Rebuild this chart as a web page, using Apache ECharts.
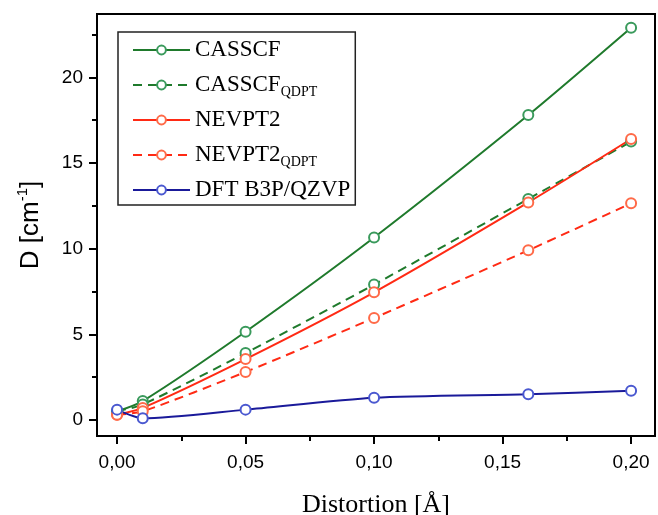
<!DOCTYPE html>
<html>
<head>
<meta charset="utf-8">
<script src="https://cdn.jsdelivr.net/npm/echarts@6/dist/echarts.min.js"></script>
<style>
  html, body { margin: 0; padding: 0; background: #fff; }
  #chart { width: 658px; height: 515px; }
</style>
</head>
<body>
<div id="chart"></div>
<script>
// distortion values (Å)
var distortion = [0, 0.01, 0.05, 0.10, 0.16, 0.20];

// D values (cm^-1)
var casscf      = [0.5, 1.1, 5.15, 10.65, 17.8, 22.9];
var casscfQdpt  = [0.5, 0.9, 3.9, 7.9, 12.9, 16.25];
var nevpt2      = [0.3, 0.7, 3.55, 7.45, 12.7, 16.4];
var nevpt2Qdpt  = [0.3, 0.5, 2.8, 5.95, 9.9, 12.65];
var dft         = [0.6, 0.1, 0.6, 1.3, 1.5, 1.7];

var xMajorTicks = [0, 0.05, 0.10, 0.15, 0.20];
var xMinorTicks = [0.025, 0.075, 0.125, 0.175];
var yMajorTicks = [0, 5, 10, 15, 20];
var yMinorTicks = [2.5, 7.5, 12.5, 17.5, 22.5];

function pairs(ys) {
    return distortion.map(function (x, i) { return [x, ys[i]]; });
}

var dom = document.getElementById("chart");
var myChart = echarts.init(dom);

var xMin = -0.0078, xMax = 0.2093;
var yMin = -0.94, yMax = 23.7;

function mkSeries(name, ys, lineColor, markColor, dashed) {
    return {
        name: name,
        type: 'line',
        data: pairs(ys),
        smooth: 0.25,
        symbol: 'emptyCircle',
        symbolSize: 10,
        showAllSymbol: true,
        lineStyle: {
            color: lineColor,
            width: 2,
            type: dashed ? [9, 6] : 'solid'
        },
        itemStyle: {
            color: markColor,
            borderColor: markColor,
            borderWidth: 1.3
        },
        emphasis: { disabled: true }
    };
}

var option = {
    animation: false,
    grid: {
        left: 97,
        right: 3,
        top: 14,
        bottom: 79,
        outerBoundsMode: 'none',
        show: true,
        borderColor: '#000',
        borderWidth: 2
    },
    legend: {
        orient: 'vertical',
        left: 118,
        top: 32,
        itemWidth: 57,
        itemHeight: 11,
        itemGap: 7,
        padding: [4, 5, 1, 14],
        borderColor: '#222',
        borderWidth: 1.5,
        backgroundColor: '#fff',
        data: ['CASSCF', 'CASSCF_QDPT', 'NEVPT2', 'NEVPT2_QDPT', 'DFT B3P/QZVP'],
        formatter: function (name) {
            if (name.indexOf('_QDPT') > 0) {
                return '{m|' + name.replace('_QDPT', '') + '}{s|QDPT}';
            }
            return '{m|' + name + '}';
        },
        textStyle: {
            color: '#000',
            fontFamily: 'Liberation Serif',
            fontSize: 23,
            lineHeight: 28,
            rich: {
                m: { fontFamily: 'Liberation Serif', fontSize: 23, color: '#000', verticalAlign: 'middle', lineHeight: 28 },
                s: { fontFamily: 'Liberation Serif', fontSize: 14, color: '#000', verticalAlign: 'bottom', lineHeight: 28 }
            }
        }
    },
    xAxis: [{
        type: 'value',
        min: xMin,
        max: xMax,
        name: 'Distortion [Å]',
        nameLocation: 'middle',
        nameGap: 56,
        nameTextStyle: { fontFamily: 'Liberation Serif', fontSize: 26, color: '#000' },
        splitLine: { show: false },
        axisLine: { show: true, onZero: false, lineStyle: { color: '#000', width: 2 } },
        axisTick: { show: true, length: 8, lineStyle: { color: '#000', width: 2 }, customValues: xMajorTicks },
        axisLabel: {
            customValues: xMajorTicks,
            margin: 17,
            color: '#000',
            fontFamily: 'Liberation Sans',
            fontSize: 19,
            formatter: function (v) { return v.toFixed(2).replace('.', ','); }
        }
    }, {
        type: 'value',
        min: xMin,
        max: xMax,
        position: 'bottom',
        splitLine: { show: false },
        axisLine: { show: false, onZero: false },
        axisTick: { show: true, length: 5, lineStyle: { color: '#000', width: 2 }, customValues: xMinorTicks },
        axisLabel: { show: false }
    }],
    yAxis: [{
        type: 'value',
        min: yMin,
        max: yMax,
        name: '{n|D [cm}{p|-1}{n|]}',
        nameLocation: 'middle',
        nameGap: 50,
        nameTextStyle: {
            fontFamily: 'Liberation Sans',
            fontSize: 26,
            color: '#000',
            rich: {
                n: { fontFamily: 'Liberation Sans', fontSize: 26, color: '#000', verticalAlign: 'middle', lineHeight: 32 },
                p: { fontFamily: 'Liberation Sans', fontSize: 15, color: '#000', verticalAlign: 'top', lineHeight: 32 }
            }
        },
        splitLine: { show: false },
        axisLine: { show: true, onZero: false, lineStyle: { color: '#000', width: 2 } },
        axisTick: { show: true, length: 8, lineStyle: { color: '#000', width: 2 }, customValues: yMajorTicks },
        axisLabel: {
            customValues: yMajorTicks,
            margin: 14,
            color: '#000',
            fontFamily: 'Liberation Sans',
            fontSize: 19
        }
    }, {
        type: 'value',
        min: yMin,
        max: yMax,
        position: 'left',
        splitLine: { show: false },
        axisLine: { show: false, onZero: false },
        axisTick: { show: true, length: 5, lineStyle: { color: '#000', width: 2 }, customValues: yMinorTicks },
        axisLabel: { show: false }
    }],
    series: [
        mkSeries('CASSCF', casscf, '#1f7a2c', '#3a9a5c', false),
        mkSeries('CASSCF_QDPT', casscfQdpt, '#1f7a2c', '#3a9a5c', true),
        mkSeries('NEVPT2', nevpt2, '#ff2a14', '#ff6a48', false),
        mkSeries('NEVPT2_QDPT', nevpt2Qdpt, '#ff2a14', '#ff6a48', true),
        mkSeries('DFT B3P/QZVP', dft, '#1a1a9a', '#4a58d0', false)
    ]
};

if (option && typeof option === "object") {
    myChart.setOption(option, true);
}

window.addEventListener("resize", function () {
    myChart.resize();
});
</script>
</body>
</html>
